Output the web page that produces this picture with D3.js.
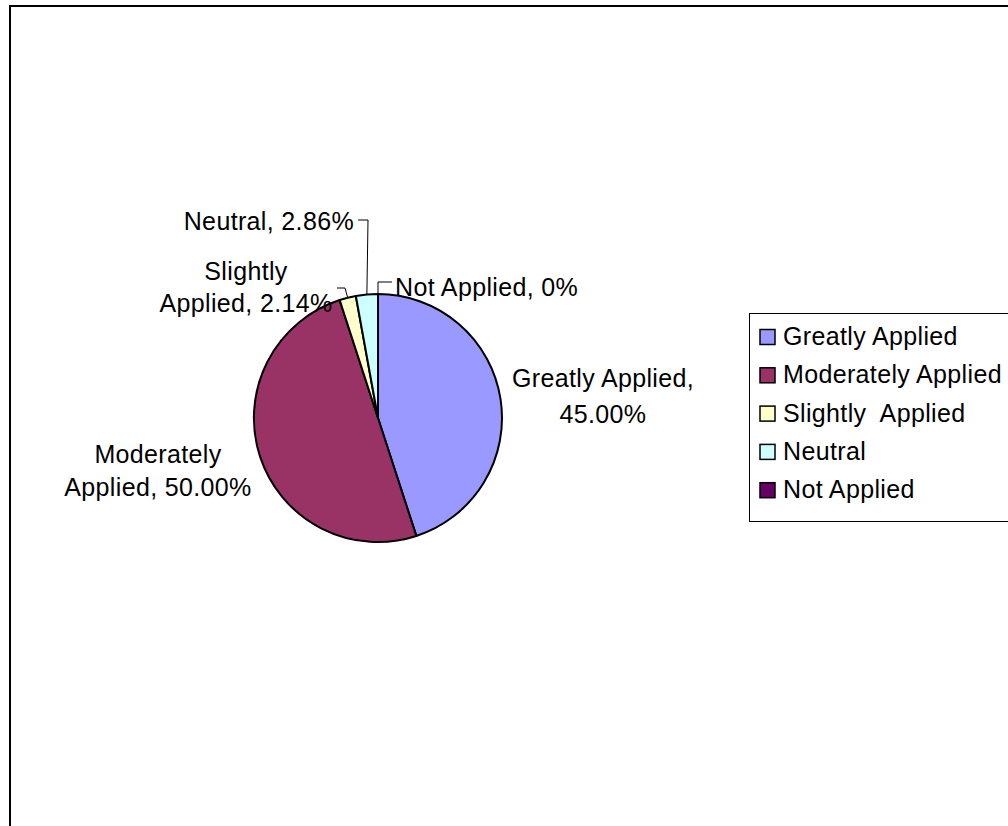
<!DOCTYPE html>
<html>
<head>
<meta charset="utf-8">
<script src="https://cdn.jsdelivr.net/npm/d3@7"></script>
<style>
    body { margin: 0; background: #fff; }
    text { font-family: "Liberation Sans", Arial, sans-serif; fill: #000; }
</style>
</head>
<body>
<div id="chart"></div>
<script>
// data
const categories = ["Greatly Applied", "Moderately Applied", "Slightly  Applied", "Neutral", "Not Applied"];
const labelNames = [["Greatly Applied,"], ["Moderately", "Applied,"], ["Slightly", "Applied,"], ["Neutral,"], ["Not Applied,"]];
const values = [45.00, 50.00, 2.14, 2.86, 0];
const valueText = ["45.00%", "50.00%", "2.14%", "2.86%", "0%"];
const colors = ["#9999FF", "#993366", "#FFFFCC", "#CCFFFF", "#660066"];

// label layout: anchor offset from pie centre, text-anchor, and line breaks
const labelLayout = [
    { dx: 225, dy: -31, anchor: "middle", lh: 36, lines: d => [d.name, d.value] },
    { dx: -220, dy: 45, anchor: "middle", lh: 33, lines: d => [d.name[0], d.name[1] + " " + d.value] },
    { dx: -132, dy: -138, anchor: "middle", lh: 32, lines: d => [d.name[0], d.name[1] + " " + d.value] },
    { dx: -24, dy: -188, anchor: "end", lh: 0, lines: d => [d.name[0] + " " + d.value] },
    { dx: 17, dy: -122, anchor: "start", lh: 0, lines: d => [d.name[0] + " " + d.value] }
];
// leader lines: elbow point relative to centre, then short horizontal tail
const leaders = {
    2: { ex: -33, ey: -130, tx: -41 },
    3: { ex: -10, ey: -198, tx: -20 },
    4: { ex: 0, ey: -136, tx: 14 }
};

const W = 1008, H = 826;
const cx = 378, cy = 418, r = 124;
const fontSize = 25, spacing = 0.35;

const svg = d3.select("#chart").append("svg")
    .attr("width", W)
    .attr("height", H);

// outer frame (cut off at right and bottom in the reference)
svg.append("rect")
    .attr("x", 10)
    .attr("y", 6)
    .attr("width", W + 50)
    .attr("height", H + 50)
    .attr("fill", "#fff")
    .attr("stroke", "#000")
    .attr("stroke-width", 2);

const pie = d3.pie().sort(null).value(d => d);
const arcs = pie(values);
const arc = d3.arc().innerRadius(0).outerRadius(r);
const edge = d3.arc().innerRadius(r).outerRadius(r);

const g = svg.append("g").attr("transform", `translate(${cx},${cy})`);

g.selectAll(".slice")
    .data(arcs)
    .enter().append("path")
    .attr("class", "slice")
    .attr("d", arc)
    .attr("fill", (d, i) => colors[i])
    .attr("stroke", "#000")
    .attr("stroke-width", 2)
    .attr("stroke-linejoin", "round");

// leader lines
Object.keys(leaders).forEach(k => {
    let i = +k;
    let L = leaders[i];
    let p = edge.centroid(arcs[i]);
    g.append("polyline")
        .attr("points", [p, [L.ex, L.ey], [L.tx, L.ey]].map(q => q.join(",")).join(" "))
        .attr("fill", "none")
        .attr("stroke", "#000")
        .attr("stroke-width", 1);
});

// data labels
arcs.forEach((d, i) => {
    let L = labelLayout[i];
    let lines = L.lines({ name: labelNames[i], value: valueText[i] });
    let t = g.append("text")
        .attr("x", L.dx)
        .attr("y", L.dy)
        .attr("text-anchor", L.anchor)
        .style("font-size", fontSize + "px")
        .style("letter-spacing", spacing + "px");
    lines.forEach((s, j) => {
        t.append("tspan")
            .attr("x", L.dx)
            .attr("y", L.dy + j * L.lh)
            .text(s);
    });
});

// legend
const legend = svg.append("g").attr("transform", "translate(749.5,313.5)");
legend.append("rect")
    .attr("width", 300)
    .attr("height", 208)
    .attr("fill", "#fff")
    .attr("stroke", "#000")
    .attr("stroke-width", 1);

const items = legend.selectAll(".item")
    .data(categories)
    .enter().append("g")
    .attr("class", "item")
    .attr("transform", (d, i) => `translate(0, ${31.5 + i * 38.3})`);

items.append("rect")
    .attr("x", 10.5)
    .attr("y", -15.5)
    .attr("width", 15)
    .attr("height", 15)
    .attr("fill", (d, i) => colors[i])
    .attr("stroke", "#000")
    .attr("stroke-width", 1.5);

items.append("text")
    .attr("x", 33.5)
    .attr("y", 0)
    .style("font-size", fontSize + "px")
    .style("letter-spacing", spacing + "px")
    .style("white-space", "pre")
    .text(d => d);
</script>
</body>
</html>
